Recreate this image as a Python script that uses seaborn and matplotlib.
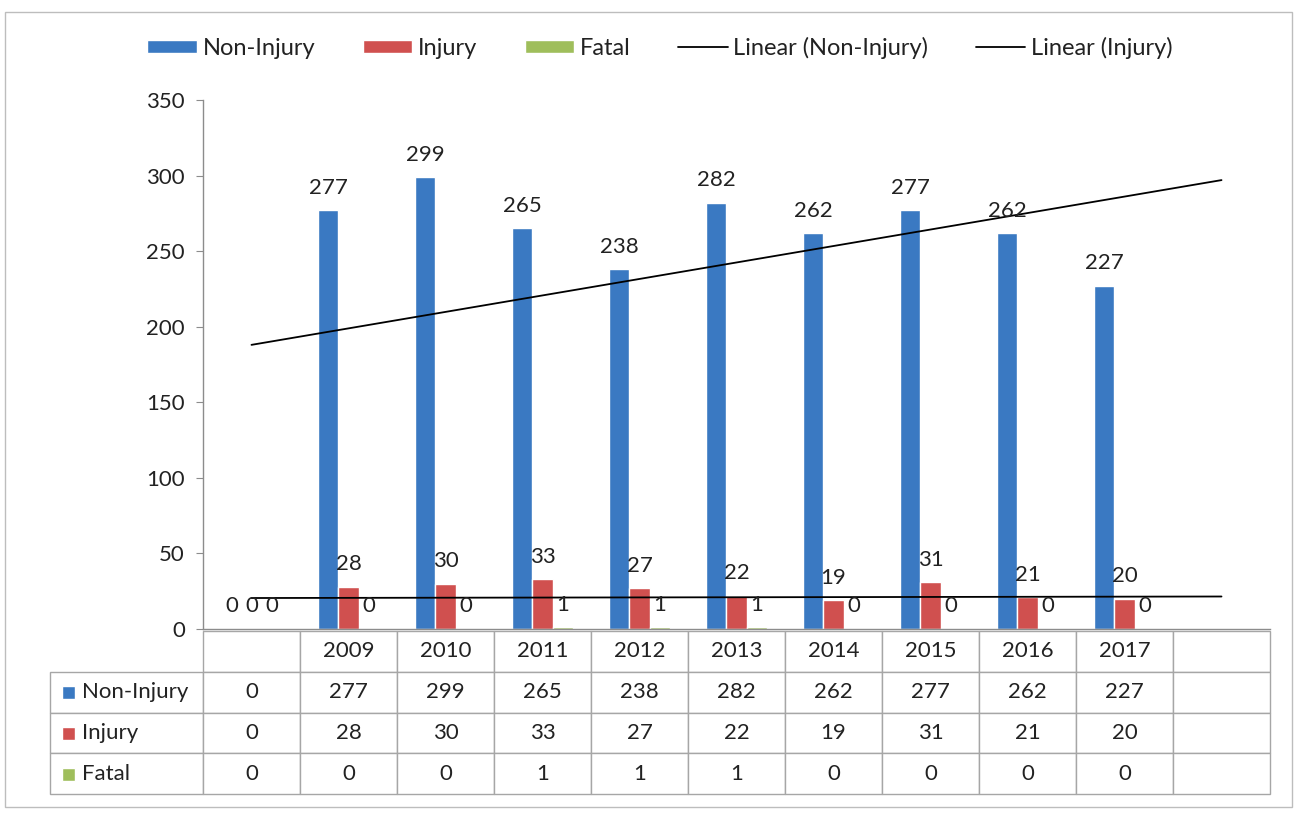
import numpy as np
import pandas as pd
import seaborn as sns
import matplotlib.pyplot as plt
from matplotlib.patches import Patch, Rectangle
from matplotlib.lines import Line2D

categories = ["", "2009", "2010", "2011", "2012", "2013", "2014", "2015", "2016", "2017", " "]
non_injury = [0, 277, 299, 265, 238, 282, 262, 277, 262, 227, np.nan]
injury = [0, 28, 30, 33, 27, 22, 19, 31, 21, 20, np.nan]
fatal = [0, 0, 0, 1, 1, 1, 0, 0, 0, 0, np.nan]
series = ["Non-Injury", "Injury", "Fatal"]
colors = ["#3A79C2", "#D0504F", "#9FBE5B"]
# excel trend lines, values at first and last category as drawn
trend_non_injury = [188, 297]
trend_injury = [20.5, 21.5]

df = pd.DataFrame({"cat": categories, "Non-Injury": non_injury,
                   "Injury": injury, "Fatal": fatal})
long_df = df.melt(id_vars="cat", var_name="series", value_name="count").dropna()

sns.set_style("white")
plt.rcParams["font.family"] = ["Lato", "DejaVu Sans"]
FS = 16
TXT = "#222222"

W, H = 1296, 813
fig = plt.figure(figsize=(W / 100, H / 100), dpi=100)
# plot area in pixels: x 203..1270, y 100..629
ax = fig.add_axes([203 / W, 1 - 629 / H, 1067 / W, 529 / H])

sns.barplot(data=long_df, x="cat", y="count", hue="series", order=categories,
            hue_order=series, palette=colors, width=0.62, saturation=1,
            errorbar=None, legend=False, ax=ax)

for c in ax.containers:
    ax.bar_label(c, fmt="%d", padding=9, fontsize=FS, color=TXT)

# trend lines
x_ends = [0, len(categories) - 1]
ax.plot(x_ends, trend_non_injury, color="black", lw=1.3)
ax.plot(x_ends, trend_injury, color="black", lw=1.3)

ax.set_xlim(-0.5, len(categories) - 0.5)
ax.set_ylim(0, 350)
ax.set_yticks(range(0, 351, 50))
ax.set_xlabel("")
ax.set_ylabel("")
ax.tick_params(axis="x", bottom=False, labelbottom=False)
ax.tick_params(axis="y", left=True, length=5, color="#8C8C8C", labelsize=FS,
               pad=8, labelcolor=TXT)
sns.despine(ax=ax)
for s in ["left", "bottom"]:
    ax.spines[s].set_color("#8C8C8C")
    ax.spines[s].set_linewidth(1)

# --- data table under the plot ---
def fmt(v):
    return "" if np.isnan(v) else f"{int(v)}"

rows = [[""] + [c.strip() for c in categories]]
for name, vals in zip(series, [non_injury, injury, fatal]):
    rows.append([name] + [fmt(v) for v in vals])

tbl = ax.table(cellText=rows, colWidths=[153] + [97] * len(categories),
               cellLoc="center",
               bbox=[-153 / 1067, -165 / 529, 1220 / 1067, 163 / 529])
tbl.auto_set_font_size(False)
tbl.set_fontsize(FS)
for (r, c), cell in tbl.get_celld().items():
    cell.set_edgecolor("#A6A6A6")
    cell.set_linewidth(1)
    cell.get_text().set_color(TXT)
    if c == 0:
        cell.set_text_props(ha="left")
        cell.PAD = 0.21
tbl[0, 0].visible_edges = ""

row_mid = [692.5, 733.5, 774.5]
for ym, col in zip(row_mid, colors):
    ax.add_patch(Rectangle(((62 - 203) / 1067, (629 - ym - 6.5) / 529),
                           13 / 1067, 13 / 529, transform=ax.transAxes,
                           facecolor=col, clip_on=False))

# --- legend on top ---
handles = [Patch(facecolor=c) for c in colors] + \
          [Line2D([], [], color="black", lw=1.3), Line2D([], [], color="black", lw=1.3)]
labels = series + ["Linear (Non-Injury)", "Linear (Injury)"]
fig.legend(handles, labels, loc="center", bbox_to_anchor=(660 / W, 1 - 48 / H),
           ncol=5, frameon=False, fontsize=17, handlelength=2.1, handleheight=0.5,
           handletextpad=0.25, columnspacing=2.0, labelcolor=TXT)

# chart border
fig.patches.append(Rectangle((5 / W, 6 / H), 1287 / W, 795 / H, transform=fig.transFigure,
                             fill=False, edgecolor="#BDBDBD", lw=1))

fig.savefig("out.png", dpi=100)
